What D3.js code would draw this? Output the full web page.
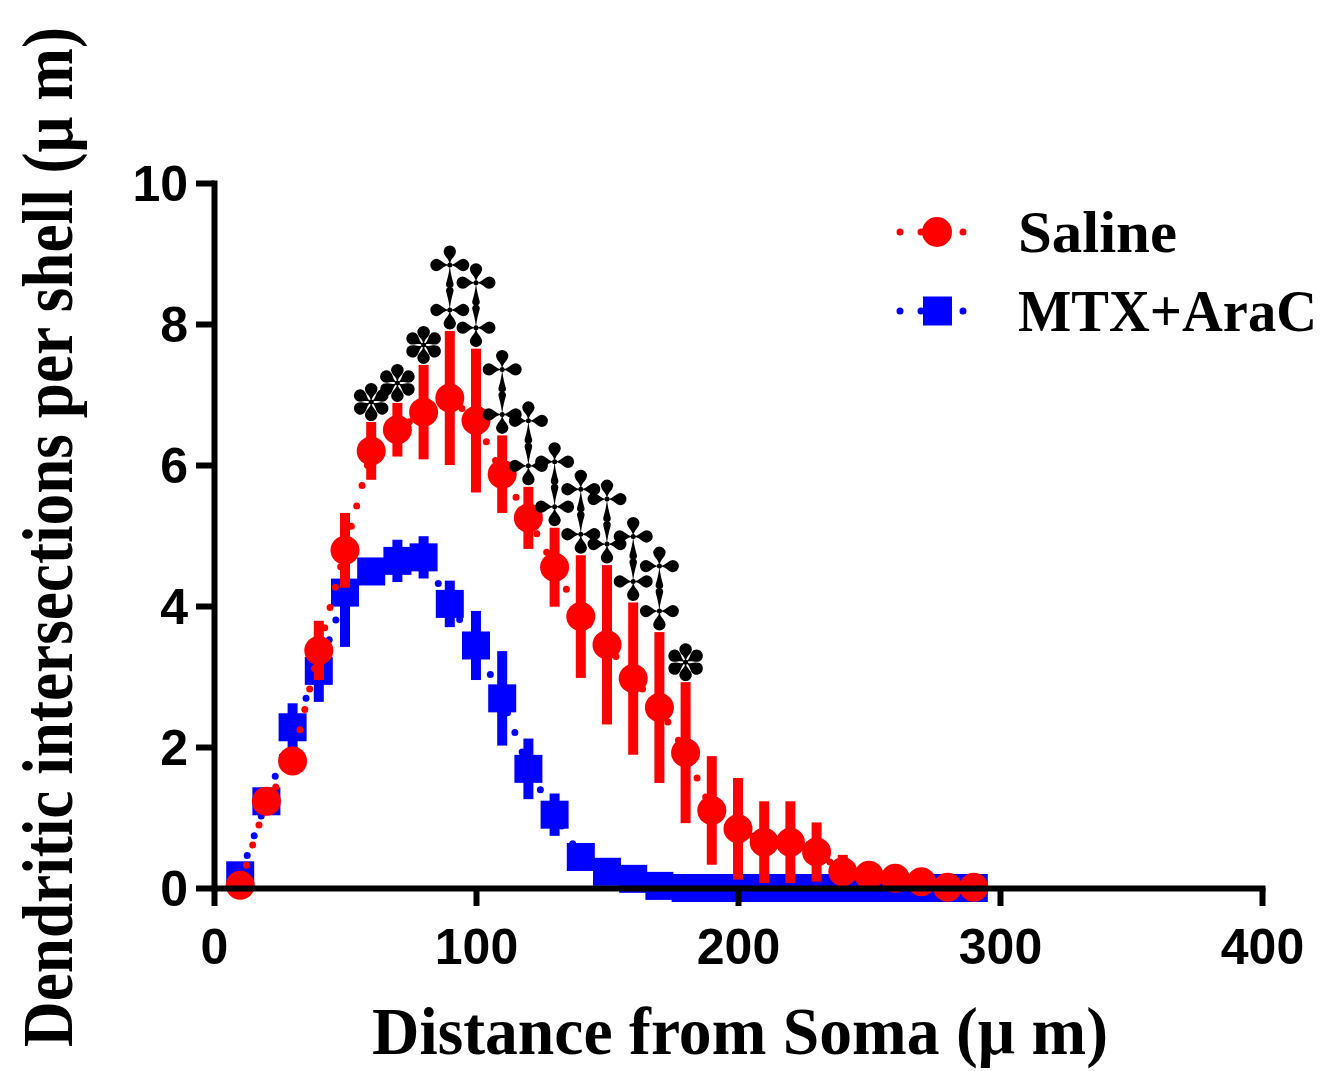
<!DOCTYPE html>
<html>
<head>
<meta charset="utf-8">
<script src="https://cdn.jsdelivr.net/npm/d3@7"></script>
<style>
  body { margin: 0; background: #fff; }
  svg { display: block; }
</style>
</head>
<body>
<svg width="1339" height="1071"></svg>
<script>
var distance = [10, 20, 30, 40, 50, 60, 70, 80, 90, 100, 110, 120, 130, 140, 150,
    160, 170, 180, 190, 200, 210, 220, 230, 240, 250, 260, 270, 280, 290];
var salineMean = [0.04, 1.23, 1.8, 3.37, 4.79, 6.2, 6.5, 6.75, 6.95, 6.63, 5.87, 5.25, 4.55, 3.85, 3.45,
    2.97, 2.56, 1.92, 1.1, 0.84, 0.65, 0.65, 0.51, 0.23, 0.18, 0.14, 0.09, 0.01, 0.01];
var salineSem = [0.05, 0.1, 0.1, 0.42, 0.53, 0.41, 0.38, 0.67, 0.95, 1.02, 0.55, 0.44, 0.56, 0.87, 1.13,
    1.08, 1.07, 1.0, 0.77, 0.72, 0.58, 0.58, 0.42, 0.24, 0.05, 0.05, 0.05, 0.01, 0.01];
var mtxMean = [0.18, 1.23, 2.28, 3.08, 4.19, 4.49, 4.64, 4.69, 4.03, 3.44, 2.69, 1.69, 1.04, 0.44, 0.23,
    0.13, 0.03, 0, 0, 0, 0, 0, 0, 0, 0, 0, 0, 0, 0];
var mtxSem = [0.05, 0.1, 0.34, 0.44, 0.77, 0.18, 0.3, 0.3, 0.33, 0.49, 0.67, 0.43, 0.3, 0.1, 0.05,
    0.03, 0.02, 0, 0, 0, 0, 0, 0, 0, 0, 0, 0, 0, 0];
// significance marks above the saline bars
var starAt = [60, 70, 80, 180];
var daggerAt = [90, 100, 110, 120, 130, 140, 150, 160, 170];
var xTicks = [0, 100, 200, 300, 400];
var yTicks = [0, 2, 4, 6, 8, 10];
var seriesNames = ['Saline', 'MTX+AraC'];

var RED = '#ff0000';
var BLUE = '#0000ff';

var svg = d3.select('svg');
var x = d3.scaleLinear().domain([0, 400]).range([214, 1262]);
var y = d3.scaleLinear().domain([0, 10]).range([888, 183]);

function rows(mean, sem) {
    return distance.map(function (d, i) { return { x: d, m: mean[i], e: sem[i] }; });
}
var saline = rows(salineMean, salineSem);
var mtx = rows(mtxMean, mtxSem);

var line = d3.line().x(function (d) { return x(d.x); }).y(function (d) { return y(d.m); });

function drawSeries(data, color, shape) {
    var g = svg.append('g');
    g.append('path')
        .datum(data)
        .attr('d', line)
        .attr('fill', 'none')
        .attr('stroke', color)
        .attr('stroke-width', 7)
        .attr('stroke-linecap', 'round')
        .attr('stroke-dasharray', '0 21');
    g.selectAll('.bar').data(data.filter(function (d) { return d.e > 0; }))
        .enter().append('rect')
        .attr('class', 'bar')
        .attr('x', function (d) { return x(d.x) - 5; })
        .attr('width', 10)
        .attr('y', function (d) { return y(d.m + d.e); })
        .attr('height', function (d) { return y(d.m - d.e) - y(d.m + d.e); })
        .attr('fill', color);
    if (shape === 'circle') {
        g.selectAll('.pt').data(data).enter().append('circle')
            .attr('cx', function (d) { return x(d.x); })
            .attr('cy', function (d) { return y(d.m); })
            .attr('r', 14.5)
            .attr('fill', color);
    } else {
        g.selectAll('.pt').data(data).enter().append('rect')
            .attr('x', function (d) { return x(d.x) - 14; })
            .attr('y', function (d) { return y(d.m) - 14; })
            .attr('width', 28)
            .attr('height', 28)
            .attr('fill', color);
    }
}

drawSeries(mtx, BLUE, 'square');
drawSeries(saline, RED, 'circle');

// teardrop petal pointing down from the origin, thin stem and round tip
function petal(L, r) {
    var a = L - r;
    return 'M0,0 C0.9,' + (a * 0.55) + ' ' + (r * 0.85) + ',' + (a - r * 0.9) + ' ' + r + ',' + a +
        ' A' + r + ',' + r + ' 0 0,1 ' + (-r) + ',' + a +
        ' C' + (-r * 0.85) + ',' + (a - r * 0.9) + ' -0.9,' + (a * 0.55) + ' 0,0Z';
}

function barTop(v) {
    var i = distance.indexOf(v);
    return y(salineMean[i] + salineSem[i]);
}

var marks = svg.append('g').attr('fill', '#000');
starAt.forEach(function (v) {
    var g = marks.append('g').attr('transform', 'translate(' + x(v) + ',' + (barTop(v) - 20) + ')');
    [0, 60, 120, 180, 240, 300].forEach(function (a) {
        g.append('path').attr('d', petal(19, 6.3)).attr('transform', 'rotate(' + a + ')');
    });
    g.append('circle').attr('r', 2.5);
});
daggerAt.forEach(function (v) {
    var t = barTop(v);
    var low = marks.append('g').attr('transform', 'translate(' + x(v) + ',' + (t - 21) + ')');
    [90, -90, 0].forEach(function (a) {
        low.append('path').attr('d', petal(19.5, 6.2)).attr('transform', 'rotate(' + a + ')');
    });
    low.append('path').attr('d', petal(23, 3.8)).attr('transform', 'rotate(180)');
    low.append('circle').attr('r', 2.5);
    var high = marks.append('g').attr('transform', 'translate(' + x(v) + ',' + (t - 66) + ')');
    [90, -90, 180].forEach(function (a) {
        high.append('path').attr('d', petal(19.5, 6.2)).attr('transform', 'rotate(' + a + ')');
    });
    high.append('path').attr('d', petal(23, 3.8));
    high.append('circle').attr('r', 2.5);
});

// axes
var xAxis = svg.append('g')
    .attr('transform', 'translate(0,888)')
    .call(d3.axisBottom(x).tickValues(xTicks).tickSize(18).tickSizeOuter(0).tickPadding(22));
var yAxis = svg.append('g')
    .attr('transform', 'translate(214,0)')
    .call(d3.axisLeft(y).tickValues(yTicks).tickSize(18).tickSizeOuter(0).tickPadding(8));
[xAxis, yAxis].forEach(function (ax) {
    ax.select('.domain').attr('stroke', '#000').attr('stroke-width', 6).attr('stroke-linecap', 'square');
    ax.selectAll('.tick line').attr('stroke', '#000').attr('stroke-width', 6);
    ax.selectAll('.tick text')
        .attr('fill', '#000')
        .style('font-family', '"Liberation Sans", Arial, sans-serif')
        .style('font-weight', 'bold')
        .style('font-size', '50px');
});
yAxis.selectAll('.tick text').attr('dy', '0.35em');

// axis titles
svg.append('text')
    .attr('x', 740).attr('y', 1054)
    .attr('text-anchor', 'middle')
    .attr('textLength', 736).attr('lengthAdjust', 'spacingAndGlyphs')
    .style('font-family', '"Liberation Serif", "Times New Roman", serif')
    .style('font-weight', 'bold').style('font-size', '68px')
    .text('Distance from Soma (\u03bc m)');
svg.append('text')
    .attr('transform', 'translate(72,537) rotate(-90)')
    .attr('text-anchor', 'middle')
    .attr('textLength', 1020).attr('lengthAdjust', 'spacingAndGlyphs')
    .style('font-family', '"Liberation Serif", "Times New Roman", serif')
    .style('font-weight', 'bold').style('font-size', '72px')
    .text('Dendritic intersections per shell (\u03bc m)');

// legend
var legend = svg.append('g');
[[RED, 'circle', 232], [BLUE, 'square', 311]].forEach(function (d, i) {
    var color = d[0], cy = d[2];
    legend.append('line')
        .attr('x1', 900).attr('x2', 966).attr('y1', cy).attr('y2', cy)
        .attr('stroke', color).attr('stroke-width', 7)
        .attr('stroke-linecap', 'round').attr('stroke-dasharray', '0 21');
    if (d[1] === 'circle') {
        legend.append('circle').attr('cx', 937).attr('cy', cy).attr('r', 15).attr('fill', color);
    } else {
        legend.append('rect').attr('x', 923).attr('y', cy - 14.5).attr('width', 29).attr('height', 29).attr('fill', color);
    }
    legend.append('text')
        .attr('x', 1018).attr('y', cy + 20)
        .attr('textLength', i === 0 ? 159 : 299).attr('lengthAdjust', 'spacingAndGlyphs')
        .style('font-family', '"Liberation Serif", "Times New Roman", serif')
        .style('font-weight', 'bold').style('font-size', '60px')
        .text(seriesNames[i]);
});
</script>
</body>
</html>
